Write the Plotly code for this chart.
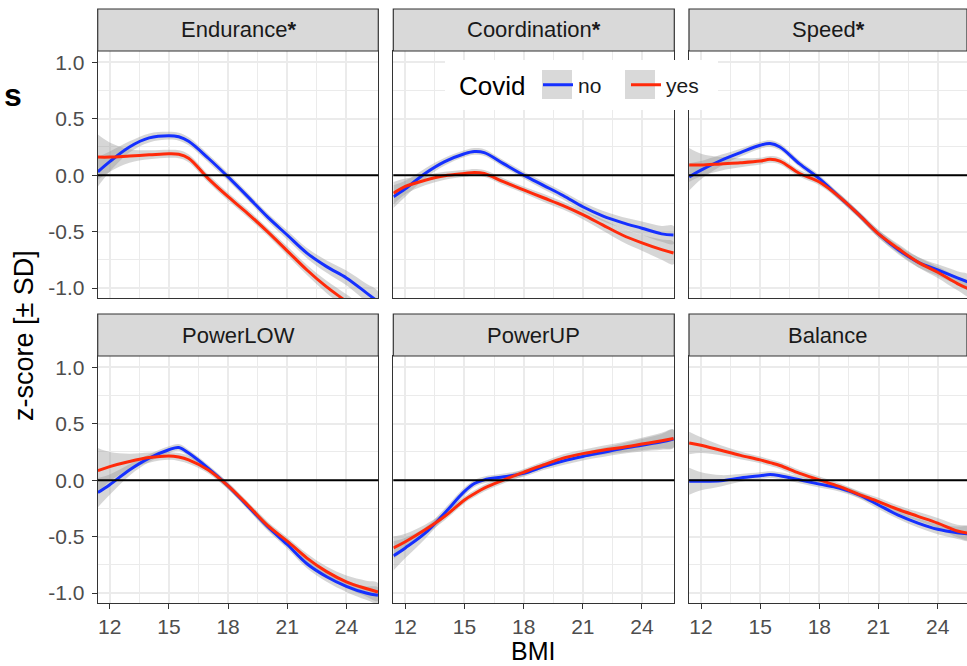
import plotly.graph_objects as go

# ---------------- data ----------------
bmi = [11.4, 12, 13, 14, 15, 15.5, 16, 17, 18, 19, 20, 21, 22, 23, 24, 25, 25.6]

panels = ["Endurance<b>*</b>", "Coordination<b>*</b>", "Speed<b>*</b>", "PowerLOW", "PowerUP", "Balance"]
groups = ["no", "yes"]

endurance_no = [0.03, 0.12, 0.25, 0.33, 0.35, 0.34, 0.30, 0.15, -0.015, -0.19, -0.37, -0.53, -0.69, -0.81, -0.91, -1.04, -1.12]
endurance_yes = [0.16, 0.16, 0.17, 0.18, 0.19, 0.185, 0.15, -0.03, -0.19, -0.34, -0.50, -0.67, -0.84, -0.99, -1.12, -1.26, -1.34]
coordination_no = [-0.19, -0.12, 0.015, 0.12, 0.19, 0.21, 0.20, 0.10, 0.0, -0.09, -0.18, -0.28, -0.36, -0.42, -0.47, -0.52, -0.53]
coordination_yes = [-0.16, -0.10, -0.045, -0.005, 0.015, 0.024, 0.015, -0.06, -0.13, -0.20, -0.27, -0.35, -0.44, -0.53, -0.60, -0.66, -0.69]
speed_no = [-0.015, 0.045, 0.13, 0.20, 0.265, 0.28, 0.25, 0.10, -0.03, -0.19, -0.35, -0.52, -0.66, -0.77, -0.84, -0.91, -0.95]
speed_yes = [0.09, 0.09, 0.10, 0.11, 0.125, 0.14, 0.125, 0.015, -0.06, -0.19, -0.35, -0.52, -0.65, -0.77, -0.86, -0.96, -1.01]
powerlow_no = [-0.11, -0.04, 0.09, 0.195, 0.27, 0.29, 0.24, 0.105, -0.05, -0.23, -0.41, -0.57, -0.74, -0.855, -0.94, -1.0, -1.02]
powerlow_yes = [0.085, 0.12, 0.165, 0.20, 0.215, 0.205, 0.18, 0.09, -0.05, -0.22, -0.40, -0.54, -0.69, -0.81, -0.90, -0.96, -0.99]
powerup_no = [-0.67, -0.60, -0.47, -0.29, -0.10, -0.03, 0.003, 0.03, 0.06, 0.12, 0.17, 0.21, 0.245, 0.28, 0.31, 0.34, 0.365]
powerup_yes = [-0.60, -0.545, -0.44, -0.32, -0.175, -0.12, -0.07, 0.003, 0.07, 0.135, 0.195, 0.235, 0.265, 0.29, 0.32, 0.35, 0.37]
balance_no = [-0.01, -0.01, -0.005, 0.02, 0.04, 0.05, 0.04, 0.003, -0.035, -0.07, -0.13, -0.22, -0.31, -0.38, -0.435, -0.465, -0.475]
balance_yes = [0.33, 0.31, 0.265, 0.22, 0.18, 0.155, 0.13, 0.06, 0.003, -0.055, -0.125, -0.19, -0.26, -0.32, -0.38, -0.45, -0.47]

# half-widths of the grey confidence ribbons
endurance_no_ci = [0.13, 0.09, 0.05, 0.04, 0.035, 0.035, 0.035, 0.035, 0.035, 0.035, 0.035, 0.04, 0.045, 0.055, 0.065, 0.08, 0.09]
endurance_yes_ci = [0.20, 0.13, 0.06, 0.04, 0.035, 0.035, 0.035, 0.035, 0.035, 0.035, 0.035, 0.04, 0.045, 0.055, 0.065, 0.08, 0.09]
coordination_no_ci = [0.10, 0.07, 0.045, 0.035, 0.03, 0.03, 0.03, 0.03, 0.03, 0.035, 0.035, 0.04, 0.045, 0.05, 0.06, 0.07, 0.08]
coordination_yes_ci = [0.10, 0.07, 0.045, 0.035, 0.03, 0.03, 0.03, 0.03, 0.03, 0.035, 0.035, 0.04, 0.05, 0.06, 0.07, 0.09, 0.10]
speed_no_ci = [0.12, 0.08, 0.05, 0.035, 0.03, 0.03, 0.03, 0.03, 0.03, 0.03, 0.03, 0.035, 0.04, 0.045, 0.05, 0.06, 0.065]
speed_yes_ci = [0.15, 0.10, 0.06, 0.04, 0.03, 0.03, 0.03, 0.03, 0.03, 0.03, 0.03, 0.035, 0.04, 0.045, 0.05, 0.06, 0.065]
powerlow_no_ci = [0.13, 0.09, 0.05, 0.035, 0.03, 0.03, 0.03, 0.03, 0.03, 0.03, 0.035, 0.035, 0.04, 0.045, 0.05, 0.06, 0.07]
powerlow_yes_ci = [0.20, 0.13, 0.07, 0.045, 0.035, 0.035, 0.035, 0.03, 0.03, 0.03, 0.035, 0.035, 0.04, 0.045, 0.055, 0.07, 0.08]
powerup_no_ci = [0.13, 0.09, 0.05, 0.04, 0.035, 0.03, 0.03, 0.03, 0.03, 0.03, 0.035, 0.035, 0.04, 0.045, 0.055, 0.07, 0.08]
powerup_yes_ci = [0.10, 0.07, 0.045, 0.035, 0.03, 0.03, 0.03, 0.03, 0.03, 0.03, 0.035, 0.035, 0.04, 0.045, 0.055, 0.07, 0.08]
balance_no_ci = [0.12, 0.08, 0.05, 0.035, 0.03, 0.03, 0.03, 0.03, 0.03, 0.03, 0.03, 0.035, 0.035, 0.04, 0.045, 0.055, 0.06]
balance_yes_ci = [0.10, 0.07, 0.045, 0.035, 0.03, 0.03, 0.03, 0.03, 0.03, 0.03, 0.03, 0.035, 0.035, 0.04, 0.045, 0.055, 0.06]

series = [
    (endurance_no, endurance_no_ci, endurance_yes, endurance_yes_ci),
    (coordination_no, coordination_no_ci, coordination_yes, coordination_yes_ci),
    (speed_no, speed_no_ci, speed_yes, speed_yes_ci),
    (powerlow_no, powerlow_no_ci, powerlow_yes, powerlow_yes_ci),
    (powerup_no, powerup_no_ci, powerup_yes, powerup_yes_ci),
    (balance_no, balance_no_ci, balance_yes, balance_yes_ci),
]

x_ticks = [12, 15, 18, 21, 24]
x_ticktext = ["12", "15", "18", "21", "24"]
x_minor = [13.5, 16.5, 19.5, 22.5]
y_ticks = [-1.0, -0.5, 0.0, 0.5, 1.0]
y_ticktext = ["-1.0", "-0.5", "0.0", "0.5", "1.0"]
y_minor = [-0.75, -0.25, 0.25, 0.75]

# ---------------- style / layout ----------------
W, H = 967, 666
BLUE = "#1530FF"
RED = "#FF2A0A"
BAND = "rgba(153,153,153,0.4)"
FONT = "Liberation Sans, Arial, sans-serif"
TICK_SIZE = 21
STRIP_SIZE = 22

col_px = [(97.7, 378.3), (393.3, 674.3), (689.0, 967.0)]
row_px = [(51.0, 298.0), (356.0, 603.0)]
strip_h = 42
px_per_unit = 19.72
x_left = 11.39
y_range = [-1.088, 1.10]

def px_x(p):
    return p / W

def px_y(p):
    return 1 - p / H

fig = go.Figure()
layout = dict(
    width=W, height=H,
    margin=dict(l=0, r=0, t=0, b=0, autoexpand=False),
    paper_bgcolor="white", plot_bgcolor="white",
    font=dict(family=FONT, color="#4D4D4D"),
    showlegend=True,
)
shapes = []
annotations = []

for i, (name, (no, no_ci, yes, yes_ci)) in enumerate(zip(panels, series)):
    r, c = divmod(i, 3)
    k = i + 1
    xa = "x" if k == 1 else f"x{k}"
    ya = "y" if k == 1 else f"y{k}"
    x0p, x1p = col_px[c]
    y0p, y1p = row_px[r]
    xr = [x_left, x_left + (x1p - x0p) / px_per_unit]

    layout["xaxis" if k == 1 else f"xaxis{k}"] = dict(
        domain=[px_x(x0p), px_x(x1p)], anchor=ya, range=xr,
        tickmode="array", tickvals=x_ticks, ticktext=x_ticktext,
        showticklabels=(r == 1), ticks="outside" if r == 1 else "", ticklen=5, tickwidth=1.2, tickcolor="#333333",
        tickfont=dict(size=TICK_SIZE, color="#4D4D4D", family=FONT),
        showgrid=True, gridcolor="#EBEBEB", gridwidth=2,
        minor=dict(tickmode="array", tickvals=x_minor, showgrid=True, gridcolor="#EBEBEB", gridwidth=1),
        zeroline=False, showline=True, mirror=True, linecolor="#333333", linewidth=1.2,
        fixedrange=True,
    )
    layout["yaxis" if k == 1 else f"yaxis{k}"] = dict(
        domain=[px_y(y1p), px_y(y0p)], anchor=xa, range=y_range,
        tickmode="array", tickvals=y_ticks, ticktext=y_ticktext,
        showticklabels=(c == 0), ticks="outside" if c == 0 else "", ticklen=5, tickwidth=1.2, tickcolor="#333333",
        tickfont=dict(size=TICK_SIZE, color="#4D4D4D", family=FONT), ticklabelstandoff=3,
        showgrid=True, gridcolor="#EBEBEB", gridwidth=2,
        minor=dict(tickmode="array", tickvals=y_minor, showgrid=True, gridcolor="#EBEBEB", gridwidth=1),
        zeroline=False, showline=True, mirror=True, linecolor="#333333", linewidth=1.2,
        fixedrange=True,
    )

    # ribbons
    for vals, ci in ((no, no_ci), (yes, yes_ci)):
        up = [v + e for v, e in zip(vals, ci)]
        lo = [v - e for v, e in zip(vals, ci)]
        fig.add_trace(go.Scatter(
            x=bmi + bmi[::-1], y=up + lo[::-1], xaxis=xa, yaxis=ya,
            fill="toself", fillcolor=BAND, line=dict(width=0, shape="spline"),
            mode="lines", hoverinfo="skip", showlegend=False,
        ))
    # smooth lines
    for vals, grp, col in ((no, "no", BLUE), (yes, "yes", RED)):
        fig.add_trace(go.Scatter(
            x=bmi, y=vals, xaxis=xa, yaxis=ya, mode="lines",
            line=dict(color=col, width=3, shape="spline", smoothing=1.0),
            name=grp, legendgroup=grp, showlegend=(i == 0),
        ))

    # zero reference line (drawn on top, as in the original)
    shapes.append(dict(type="line", xref=f"{xa} domain", yref=ya, x0=0, x1=1, y0=0, y1=0,
                       line=dict(color="black", width=2), layer="above"))

    # strip
    sy0 = px_y(y0p)
    sy1 = px_y(y0p - strip_h)
    shapes.append(dict(type="rect", xref="paper", yref="paper", x0=px_x(x0p), x1=px_x(x1p), y0=sy0, y1=sy1,
                       fillcolor="#D9D9D9", line=dict(color="#333333", width=1.2), layer="above"))
    annotations.append(dict(xref="paper", yref="paper", x=px_x((x0p + x1p) / 2), y=(sy0 + sy1) / 2,
                            text=name, showarrow=False, font=dict(size=STRIP_SIZE, color="#1A1A1A", family=FONT),
                            xanchor="center", yanchor="middle"))

# legend background and key boxes (ggplot style)
shapes.append(dict(type="rect", xref="paper", yref="paper", x0=px_x(445), x1=px_x(718), y0=px_y(110), y1=px_y(60),
                   fillcolor="white", line=dict(width=0), layer="above"))
for kx in (542, 625):
    shapes.append(dict(type="rect", xref="paper", yref="paper", x0=px_x(kx), x1=px_x(kx + 30), y0=px_y(99), y1=px_y(70),
                       fillcolor="#D9D9D9", line=dict(width=0), layer="above"))
annotations.append(dict(xref="paper", yref="paper", x=px_x(457), y=px_y(86), text="Covid",
                        showarrow=False, font=dict(size=26, color="black", family=FONT),
                        xanchor="left", yanchor="middle"))

annotations.append(dict(xref="paper", yref="paper", x=px_x(24), y=px_y(336), text="z-score [± SD]",
                        textangle=-90, showarrow=False, font=dict(size=27, color="black", family=FONT),
                        xanchor="center", yanchor="middle"))
annotations.append(dict(xref="paper", yref="paper", x=px_x(533), y=px_y(651), text="BMI",
                        showarrow=False, font=dict(size=25, color="black", family=FONT),
                        xanchor="center", yanchor="middle"))
annotations.append(dict(xref="paper", yref="paper", x=px_x(13), y=px_y(95), text="<b>s</b>",
                        showarrow=False, font=dict(size=32, color="black", family=FONT),
                        xanchor="center", yanchor="middle"))

layout["shapes"] = shapes
layout["annotations"] = annotations
layout["legend"] = dict(
    orientation="h", x=px_x(538), y=px_y(85), xanchor="left", yanchor="middle",
    bgcolor="rgba(0,0,0,0)", borderwidth=0,
    font=dict(size=21, color="#1A1A1A", family=FONT),
    itemwidth=30, entrywidth=43, entrywidthmode="pixels",
)
fig.update_layout(**layout)
fig.write_html("out.html", config={"displayModeBar": False},
               post_script="document.body.style.margin='0px';document.body.style.overflow='hidden';")
